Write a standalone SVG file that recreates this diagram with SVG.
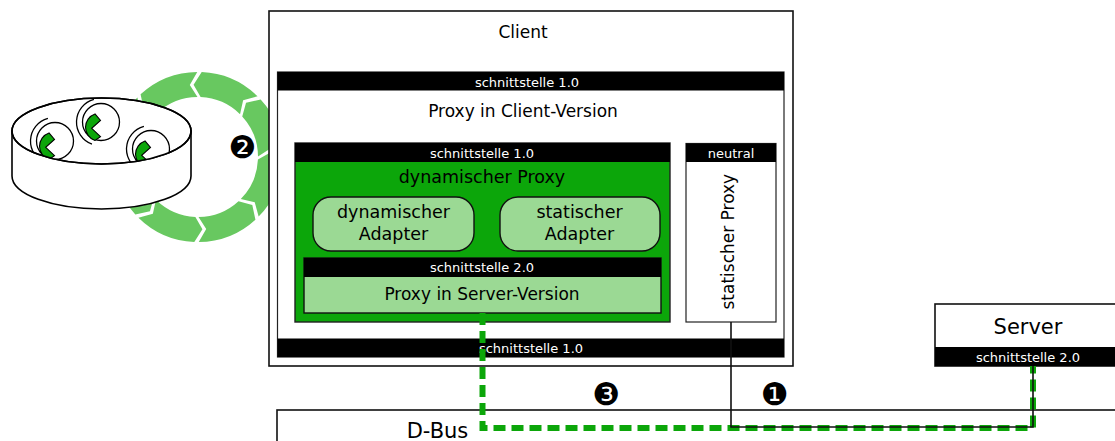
<svg xmlns="http://www.w3.org/2000/svg" width="1115" height="441" viewBox="0 0 1115 441">
  <style>
    text { font-family: "DejaVu Sans", "Liberation Sans", sans-serif; fill: #000; }
    .t17 { font-size: 17px; text-anchor: middle; }
    .t175 { font-size: 17.5px; text-anchor: middle; }
    .t21 { font-size: 21px; text-anchor: middle; }
    .band { fill: #000; }
    .bandtxt { font-size: 13px; text-anchor: middle; fill: #fff; }
    .box { fill: #fff; stroke: #111; stroke-width: 1.6; }
    .thin { fill: #fff; stroke: #222; stroke-width: 1.2; }
    .dyn { fill: #0ca60a; stroke: #222; stroke-width: 1.4; }
    .light { fill: #9bd994; stroke: #111; stroke-width: 1.4; }
    .num { font-size: 31px; text-anchor: middle; }
    .ring path { fill: #68c860; }
    .drum { fill: #fff; stroke: #000; stroke-width: 1.6; }
  </style>
  <defs>
    <clipPath id="drumTop">
      <ellipse cx="101.5" cy="131" rx="89.5" ry="33"/>
    </clipPath>
    <!-- disc with pac-man style token and motion arc, centred on the origin -->
    <g id="disc">
      <path d="M -7.08,-22.7 A 23.5 23.5 0 0 0 -9.04,22.08" fill="none" stroke="#000" stroke-width="1.3"/>
      <circle r="18.5" fill="#fff" stroke="#000" stroke-width="1.3"/>
      <path d="M -6,-8 A 14 14 0 0 0 -6,18.5 L -0.5,14.7 L -9.3,6.3 L -0.5,-1.5 Z" fill="#0ca60a" stroke="#000" stroke-width="1.1"/>
    </g>
  </defs>

  <!-- rotation ring of arrows -->
  <g id="cycle" class="ring">
    <path d="M201.71,72.08 L193.57,84.64 L200.62,97.06 A60 60 0 0 1 240.05,114.2 L243.13,100.26 L257.58,96.37 A85 85 0 0 0 201.71,72.08 Z"/>
    <path d="M260.67,99.57 L246.04,102.7 L242.24,116.46 A60 60 0 0 1 258,156.48 L270.03,148.79 L283,156.26 A85 85 0 0 0 260.67,99.57 Z"/>
    <path d="M282.92,160.71 L270.36,152.57 L257.94,159.62 A60 60 0 0 1 240.8,199.05 L254.74,202.13 L258.63,216.58 A85 85 0 0 0 282.92,160.71 Z"/>
    <path d="M255.43,219.67 L252.3,205.04 L238.54,201.24 A60 60 0 0 1 198.52,217 L206.21,229.03 L198.74,242 A85 85 0 0 0 255.43,219.67 Z"/>
    <path d="M194.29,241.92 L202.43,229.36 L195.38,216.94 A60 60 0 0 1 155.95,199.8 L152.87,213.74 L138.42,217.63 A85 85 0 0 0 194.29,241.92 Z"/>
    <path d="M135.33,214.43 L149.96,211.3 L153.76,197.54 A60 60 0 0 1 138,157.52 L125.97,165.21 L113,157.74 A85 85 0 0 0 135.33,214.43 Z"/>
    <path d="M113.08,153.29 L125.64,161.43 L138.06,154.38 A60 60 0 0 1 155.2,114.95 L141.26,111.87 L137.37,97.42 A85 85 0 0 0 113.08,153.29 Z"/>
    <path d="M140.57,94.33 L143.7,108.96 L157.46,112.76 A60 60 0 0 1 197.48,97 L189.79,84.97 L197.26,72 A85 85 0 0 0 140.57,94.33 Z"/>
  </g>

  <!-- repository drum holding the discs -->
  <g id="repository">
    <path class="drum" d="M12,131 L12,176 A89.5 33 0 0 0 191,176 L191,131 Z"/>
    <ellipse class="drum" cx="101.5" cy="131" rx="89.5" ry="33"/>
    <g clip-path="url(#drumTop)">
      <use href="#disc" transform="translate(55,141)"/>
      <use href="#disc" transform="translate(101,122)"/>
      <use href="#disc" transform="translate(151,149)"/>
    </g>
    <ellipse cx="101.5" cy="131" rx="89.5" ry="33" fill="none" stroke="#000" stroke-width="1.6"/>
  </g>

  <text id="step2" class="num" x="242.5" y="158">❷</text>

  <!-- client -->
  <g id="client">
    <rect class="box" x="269" y="11" width="524" height="355"/>
    <text class="t17" x="523" y="37.5">Client</text>
  </g>

  <g id="client-proxy">
    <rect class="thin" x="277.5" y="72" width="506.5" height="285"/>
    <rect class="band" x="277.5" y="72" width="506.5" height="18.5"/>
    <text class="bandtxt" x="527" y="86.5">schnittstelle 1.0</text>
    <text class="t17" x="523" y="116.5">Proxy in Client-Version</text>
    <rect class="band" x="277.5" y="338.5" width="506.5" height="18.5"/>
    <text class="bandtxt" x="531" y="353">schnittstelle 1.0</text>
  </g>

  <g id="dynamic-proxy">
    <rect class="dyn" x="295" y="143" width="375" height="179"/>
    <rect class="band" x="295" y="143" width="375" height="19"/>
    <text class="bandtxt" x="482" y="158.3">schnittstelle 1.0</text>
    <text class="t175" x="482" y="183.3">dynamischer Proxy</text>
  </g>

  <g id="dynamic-adapter">
    <rect class="light" x="313" y="197" width="161" height="54" rx="18" ry="18"/>
    <text class="t175" x="393.5" y="218.3">dynamischer</text>
    <text class="t175" x="393.5" y="240.3">Adapter</text>
  </g>

  <g id="static-adapter">
    <rect class="light" x="500" y="197" width="160" height="54" rx="18" ry="18"/>
    <text class="t175" x="579.5" y="218.3">statischer</text>
    <text class="t175" x="579.5" y="240.3">Adapter</text>
  </g>

  <g id="server-proxy">
    <rect class="light" x="304" y="258" width="357" height="55"/>
    <rect class="band" x="304" y="258" width="357" height="19"/>
    <text class="bandtxt" x="482" y="272.3">schnittstelle 2.0</text>
    <text class="t17" x="482" y="300">Proxy in Server-Version</text>
  </g>

  <g id="static-proxy">
    <rect class="thin" x="686" y="143.5" width="90" height="178.5"/>
    <rect class="band" x="686" y="143.5" width="90" height="18.5"/>
    <text class="bandtxt" x="731" y="158.3">neutral</text>
    <text class="t17" transform="translate(734,241.7) rotate(-90)">statischer Proxy</text>
  </g>

  <!-- server -->
  <g id="server">
    <rect class="box" x="935" y="304" width="200" height="62"/>
    <rect class="band" x="935" y="347" width="200" height="19"/>
    <text class="t21" x="1028" y="334.3">Server</text>
    <text class="bandtxt" x="1028" y="361.7">schnittstelle 2.0</text>
  </g>

  <!-- bus -->
  <g id="dbus">
    <rect class="box" x="277" y="410" width="860" height="60"/>
    <text class="t21" x="437.5" y="437.5">D-Bus</text>
  </g>

  <!-- connections over the bus -->
  <g id="connectors" fill="none">
    <path d="M482.5,313 L482.5,428 L1033,428 L1033,366" stroke="#0ca60a" stroke-width="6" stroke-dasharray="12,6"/>
    <path d="M731,322 L731,427 L1033,427 L1033,366" stroke="#111" stroke-width="1.6"/>
  </g>

  <text id="step3" class="num" x="606.5" y="404.5">❸</text>
  <text id="step1" class="num" x="775" y="404.5">❶</text>
</svg>
